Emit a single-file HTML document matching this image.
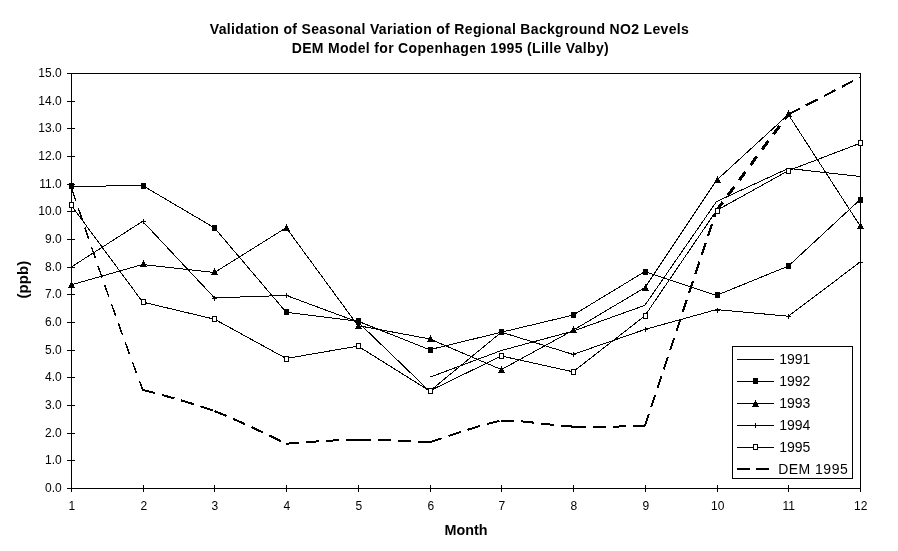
<!DOCTYPE html>
<html><head><meta charset="utf-8"><title>Validation of Seasonal Variation of Regional Background NO2 Levels</title>
<style>
html,body{margin:0;padding:0;background:#fff;}
body{width:898px;height:551px;overflow:hidden;position:relative;font-family:"Liberation Sans",sans-serif;color:#000;}
svg{position:absolute;left:0;top:0;display:block;}
.ln{fill:none;stroke:#000;stroke-width:1;}
.ax{fill:none;stroke:#000;stroke-width:1;}
text{font-family:"Liberation Sans",sans-serif;fill:#000;}
.t{font-size:14px;font-weight:bold;text-anchor:middle;}
.yl{font-size:12px;text-anchor:end;}
.xl{font-size:12px;text-anchor:middle;}
.lg{font-size:14px;}
</style></head><body>
<svg width="898" height="551" viewBox="0 0 898 551">
<rect x="0" y="0" width="898" height="551" fill="#fff"/>

<text class="t" x="449.3" y="33.5" textLength="479" lengthAdjust="spacing">Validation of Seasonal Variation of Regional Background NO2 Levels</text>
<text class="t" x="450.2" y="52.5" textLength="317" lengthAdjust="spacing">DEM Model for Copenhagen 1995 (Lille Valby)</text>
<text class="t" style="font-size:14.67px" x="466.1" y="534.9" textLength="43" lengthAdjust="spacingAndGlyphs">Month</text>
<text class="t" transform="translate(28,279.6) rotate(-90)" x="0" y="0" textLength="37.6" lengthAdjust="spacingAndGlyphs">(ppb)</text>
<g shape-rendering="crispEdges">
<path class="ax" d="M71.5,73.5 H860.5 V488.5 H71.5 Z"/>
<rect x="67" y="488" width="8" height="1" fill="#000"/>
<rect x="67" y="460" width="8" height="1" fill="#000"/>
<rect x="67" y="433" width="8" height="1" fill="#000"/>
<rect x="67" y="405" width="8" height="1" fill="#000"/>
<rect x="67" y="377" width="8" height="1" fill="#000"/>
<rect x="67" y="350" width="8" height="1" fill="#000"/>
<rect x="67" y="322" width="8" height="1" fill="#000"/>
<rect x="67" y="294" width="8" height="1" fill="#000"/>
<rect x="67" y="267" width="8" height="1" fill="#000"/>
<rect x="67" y="239" width="8" height="1" fill="#000"/>
<rect x="67" y="211" width="8" height="1" fill="#000"/>
<rect x="67" y="184" width="8" height="1" fill="#000"/>
<rect x="67" y="156" width="8" height="1" fill="#000"/>
<rect x="67" y="128" width="8" height="1" fill="#000"/>
<rect x="67" y="101" width="8" height="1" fill="#000"/>
<rect x="67" y="73" width="8" height="1" fill="#000"/>
<rect x="71" y="485" width="1" height="7" fill="#000"/>
<rect x="143" y="485" width="1" height="7" fill="#000"/>
<rect x="214" y="485" width="1" height="7" fill="#000"/>
<rect x="286" y="485" width="1" height="7" fill="#000"/>
<rect x="358" y="485" width="1" height="7" fill="#000"/>
<rect x="430" y="485" width="1" height="7" fill="#000"/>
<rect x="501" y="485" width="1" height="7" fill="#000"/>
<rect x="573" y="485" width="1" height="7" fill="#000"/>
<rect x="645" y="485" width="1" height="7" fill="#000"/>
<rect x="717" y="485" width="1" height="7" fill="#000"/>
<rect x="788" y="485" width="1" height="7" fill="#000"/>
<rect x="860" y="485" width="1" height="7" fill="#000"/>
</g>
<text class="yl" x="61.7" y="492.4">0.0</text>
<text class="yl" x="61.7" y="464.4">1.0</text>
<text class="yl" x="61.7" y="437.4">2.0</text>
<text class="yl" x="61.7" y="409.4">3.0</text>
<text class="yl" x="61.7" y="381.4">4.0</text>
<text class="yl" x="61.7" y="354.4">5.0</text>
<text class="yl" x="61.7" y="326.4">6.0</text>
<text class="yl" x="61.7" y="298.4">7.0</text>
<text class="yl" x="61.7" y="271.4">8.0</text>
<text class="yl" x="61.7" y="243.4">9.0</text>
<text class="yl" x="61.7" y="215.4">10.0</text>
<text class="yl" x="61.7" y="188.4">11.0</text>
<text class="yl" x="61.7" y="160.4">12.0</text>
<text class="yl" x="61.7" y="132.4">13.0</text>
<text class="yl" x="61.7" y="105.4">14.0</text>
<text class="yl" x="61.7" y="77.4">15.0</text>
<text class="xl" x="71.8" y="509.8">1</text>
<text class="xl" x="143.8" y="509.8">2</text>
<text class="xl" x="214.8" y="509.8">3</text>
<text class="xl" x="286.8" y="509.8">4</text>
<text class="xl" x="358.8" y="509.8">5</text>
<text class="xl" x="430.8" y="509.8">6</text>
<text class="xl" x="501.8" y="509.8">7</text>
<text class="xl" x="573.8" y="509.8">8</text>
<text class="xl" x="645.8" y="509.8">9</text>
<text class="xl" x="717.8" y="509.8">10</text>
<text class="xl" x="788.8" y="509.8">11</text>
<text class="xl" x="860.8" y="509.8">12</text>
<g shape-rendering="crispEdges">
<polyline class="ln" points="429.6,377.3 501.4,350.5 573.1,331.1 644.8,305.4 716.5,201.6 788.3,168.4 860.0,176.5"/>
<polyline class="ln" points="71.0,186.4 142.7,185.6 214.5,227.9 286.2,312.3 357.9,321.2 429.6,349.7 501.4,332.2 573.1,315.1 644.8,271.6 716.5,295.4 788.3,266.1 860.0,199.7"/>
<polyline class="ln" points="71.0,284.9 142.7,264.5 214.5,272.5 286.2,227.7 357.9,325.6 429.6,338.9 501.4,369.6 573.1,330.3 644.8,287.7 716.5,180.3 788.3,114.5 860.0,225.7"/>
<polyline class="ln" points="71.0,267.2 142.7,221.3 214.5,297.9 286.2,295.4 357.9,322.0 429.6,391.2 501.4,332.2 573.1,354.4 644.8,329.5 716.5,309.6 788.3,316.2 860.0,262.2"/>
<polyline class="ln" points="71.0,205.0 142.7,302.1 214.5,319.2 286.2,358.5 357.9,346.1 429.6,390.9 501.4,356.0 573.1,371.8 644.8,315.9 716.5,210.5 788.3,170.7 860.0,143.3"/>
</g>
<path d="M71.0,186.4 C93.5,254.2 117.4,322.0 142.7,389.8" fill="none" stroke="#000" stroke-width="1.5" stroke-dasharray="12 8.3" stroke-dashoffset="-3" shape-rendering="crispEdges"/>
<path d="M142.7,389.8 C142.7,389.8 190.5,402.1 214.5,411.1" fill="none" stroke="#000" stroke-width="2" stroke-dasharray="13 7" shape-rendering="crispEdges"/>
<path d="M214.5,411.1 C238.4,420.1 286.2,443.7 286.2,443.7" fill="none" stroke="#000" stroke-width="2" stroke-dasharray="13 7" shape-rendering="crispEdges"/>
<path d="M286.2,443.7 C286.2,443.7 334.0,439.8 357.9,439.6" fill="none" stroke="#000" stroke-width="2" stroke-dasharray="13 7" shape-rendering="crispEdges"/>
<path d="M357.9,439.6 C381.8,439.4 429.6,442.4 429.6,442.4" fill="none" stroke="#000" stroke-width="2" stroke-dasharray="13 7" shape-rendering="crispEdges"/>
<path d="M429.6,442.4 C429.6,442.4 487.0,422.3 501.4,420.8" fill="none" stroke="#000" stroke-width="2" stroke-dasharray="13 7" shape-rendering="crispEdges"/>
<path d="M501.4,420.8 C515.7,419.2 554.0,425.9 573.1,426.6" fill="none" stroke="#000" stroke-width="2" stroke-dasharray="13 7" shape-rendering="crispEdges"/>
<path d="M573.1,426.6 C592.2,427.3 644.8,426.0 644.8,426.0" fill="none" stroke="#000" stroke-width="2" stroke-dasharray="13 7" shape-rendering="crispEdges"/>
<path d="M644.8,426.0 C644.8,426.0 716.5,210.5 716.5,210.5" fill="none" stroke="#000" stroke-width="2" stroke-dasharray="13 7" shape-rendering="crispEdges"/>
<path d="M716.5,210.5 C716.5,210.5 788.3,114.5 788.3,114.5" fill="none" stroke="#000" stroke-width="3" stroke-dasharray="10.5 8.5" shape-rendering="crispEdges"/>
<path d="M788.3,114.5 C788.3,114.5 860.0,77.4 860.0,77.4" fill="none" stroke="#000" stroke-width="2" stroke-dasharray="13 7" shape-rendering="crispEdges"/>
<g shape-rendering="crispEdges" fill="#000">
<rect x="69" y="183" width="5" height="6"/>
<rect x="141" y="183" width="5" height="6"/>
<rect x="212" y="225" width="5" height="6"/>
<rect x="284" y="309" width="5" height="6"/>
<rect x="356" y="318" width="5" height="6"/>
<rect x="428" y="347" width="5" height="6"/>
<rect x="499" y="329" width="5" height="6"/>
<rect x="571" y="312" width="5" height="6"/>
<rect x="643" y="269" width="5" height="6"/>
<rect x="715" y="292" width="5" height="6"/>
<rect x="786" y="263" width="5" height="6"/>
<rect x="858" y="197" width="5" height="6"/>
<rect x="71" y="281" width="1" height="2"/><rect x="70" y="283" width="3" height="2"/><rect x="69" y="285" width="5" height="2"/><rect x="68" y="287" width="7" height="1"/>
<rect x="143" y="260" width="1" height="2"/><rect x="142" y="262" width="3" height="2"/><rect x="141" y="264" width="5" height="2"/><rect x="140" y="266" width="7" height="1"/>
<rect x="214" y="268" width="1" height="2"/><rect x="213" y="270" width="3" height="2"/><rect x="212" y="272" width="5" height="2"/><rect x="211" y="274" width="7" height="1"/>
<rect x="286" y="224" width="1" height="2"/><rect x="285" y="226" width="3" height="2"/><rect x="284" y="228" width="5" height="2"/><rect x="283" y="230" width="7" height="1"/>
<rect x="358" y="322" width="1" height="2"/><rect x="357" y="324" width="3" height="2"/><rect x="356" y="326" width="5" height="2"/><rect x="355" y="328" width="7" height="1"/>
<rect x="430" y="335" width="1" height="2"/><rect x="429" y="337" width="3" height="2"/><rect x="428" y="339" width="5" height="2"/><rect x="427" y="341" width="7" height="1"/>
<rect x="501" y="366" width="1" height="2"/><rect x="500" y="368" width="3" height="2"/><rect x="499" y="370" width="5" height="2"/><rect x="498" y="372" width="7" height="1"/>
<rect x="573" y="326" width="1" height="2"/><rect x="572" y="328" width="3" height="2"/><rect x="571" y="330" width="5" height="2"/><rect x="570" y="332" width="7" height="1"/>
<rect x="645" y="284" width="1" height="2"/><rect x="644" y="286" width="3" height="2"/><rect x="643" y="288" width="5" height="2"/><rect x="642" y="290" width="7" height="1"/>
<rect x="717" y="176" width="1" height="2"/><rect x="716" y="178" width="3" height="2"/><rect x="715" y="180" width="5" height="2"/><rect x="714" y="182" width="7" height="1"/>
<rect x="788" y="110" width="1" height="2"/><rect x="787" y="112" width="3" height="2"/><rect x="786" y="114" width="5" height="2"/><rect x="785" y="116" width="7" height="1"/>
<rect x="860" y="222" width="1" height="2"/><rect x="859" y="224" width="3" height="2"/><rect x="858" y="226" width="5" height="2"/><rect x="857" y="228" width="7" height="1"/>
<rect x="71" y="265" width="1" height="5"/><rect x="69" y="267" width="5" height="1"/>
<rect x="143" y="219" width="1" height="5"/><rect x="141" y="221" width="5" height="1"/>
<rect x="214" y="296" width="1" height="5"/><rect x="212" y="298" width="5" height="1"/>
<rect x="286" y="293" width="1" height="5"/><rect x="284" y="295" width="5" height="1"/>
<rect x="358" y="320" width="1" height="5"/><rect x="356" y="322" width="5" height="1"/>
<rect x="430" y="389" width="1" height="5"/><rect x="428" y="391" width="5" height="1"/>
<rect x="501" y="330" width="1" height="5"/><rect x="499" y="332" width="5" height="1"/>
<rect x="573" y="352" width="1" height="5"/><rect x="571" y="354" width="5" height="1"/>
<rect x="645" y="327" width="1" height="5"/><rect x="643" y="329" width="5" height="1"/>
<rect x="717" y="308" width="1" height="5"/><rect x="715" y="310" width="5" height="1"/>
<rect x="788" y="314" width="1" height="5"/><rect x="786" y="316" width="5" height="1"/>
<rect x="860" y="260" width="1" height="5"/><rect x="858" y="262" width="5" height="1"/>
<rect x="69.5" y="202.5" width="4" height="5" fill="#fff" stroke="#000" stroke-width="1"/>
<rect x="141.5" y="299.5" width="4" height="5" fill="#fff" stroke="#000" stroke-width="1"/>
<rect x="212.5" y="316.5" width="4" height="5" fill="#fff" stroke="#000" stroke-width="1"/>
<rect x="284.5" y="356.5" width="4" height="5" fill="#fff" stroke="#000" stroke-width="1"/>
<rect x="356.5" y="343.5" width="4" height="5" fill="#fff" stroke="#000" stroke-width="1"/>
<rect x="428.5" y="388.5" width="4" height="5" fill="#fff" stroke="#000" stroke-width="1"/>
<rect x="499.5" y="353.5" width="4" height="5" fill="#fff" stroke="#000" stroke-width="1"/>
<rect x="571.5" y="369.5" width="4" height="5" fill="#fff" stroke="#000" stroke-width="1"/>
<rect x="643.5" y="313.5" width="4" height="5" fill="#fff" stroke="#000" stroke-width="1"/>
<rect x="715.5" y="208.5" width="4" height="5" fill="#fff" stroke="#000" stroke-width="1"/>
<rect x="786.5" y="168.5" width="4" height="5" fill="#fff" stroke="#000" stroke-width="1"/>
<rect x="858.5" y="140.5" width="4" height="5" fill="#fff" stroke="#000" stroke-width="1"/>
</g>
<g shape-rendering="crispEdges" fill="#000">
<rect x="732.5" y="346.5" width="120" height="132" fill="#fff" stroke="#000" stroke-width="1"/>
<rect x="737" y="359" width="37" height="1"/>
<rect x="737" y="381" width="37" height="1"/>
<rect x="737" y="403" width="37" height="1"/>
<rect x="737" y="425" width="37" height="1"/>
<rect x="737" y="447" width="37" height="1"/>
<rect x="753" y="378" width="5" height="6"/>
<rect x="755" y="400" width="1" height="2"/><rect x="754" y="402" width="3" height="2"/><rect x="753" y="404" width="5" height="2"/><rect x="752" y="406" width="7" height="1"/>
<rect x="755" y="423" width="1" height="5"/><rect x="753" y="425" width="5" height="1"/>
<rect x="753.5" y="444.5" width="4" height="5" fill="#fff" stroke="#000" stroke-width="1"/>
<rect x="737" y="468" width="13" height="2" fill="#000"/><rect x="756" y="468" width="13" height="2" fill="#000"/>
</g>
<text class="lg" x="779.2" y="363.9">1991</text>
<text class="lg" x="779.2" y="385.9">1992</text>
<text class="lg" x="779.2" y="407.9">1993</text>
<text class="lg" x="779.2" y="429.9">1994</text>
<text class="lg" x="779.2" y="451.9">1995</text>
<text class="lg" x="778.2" y="473.9" textLength="69.5" lengthAdjust="spacing">DEM 1995</text>
</svg></body></html>
